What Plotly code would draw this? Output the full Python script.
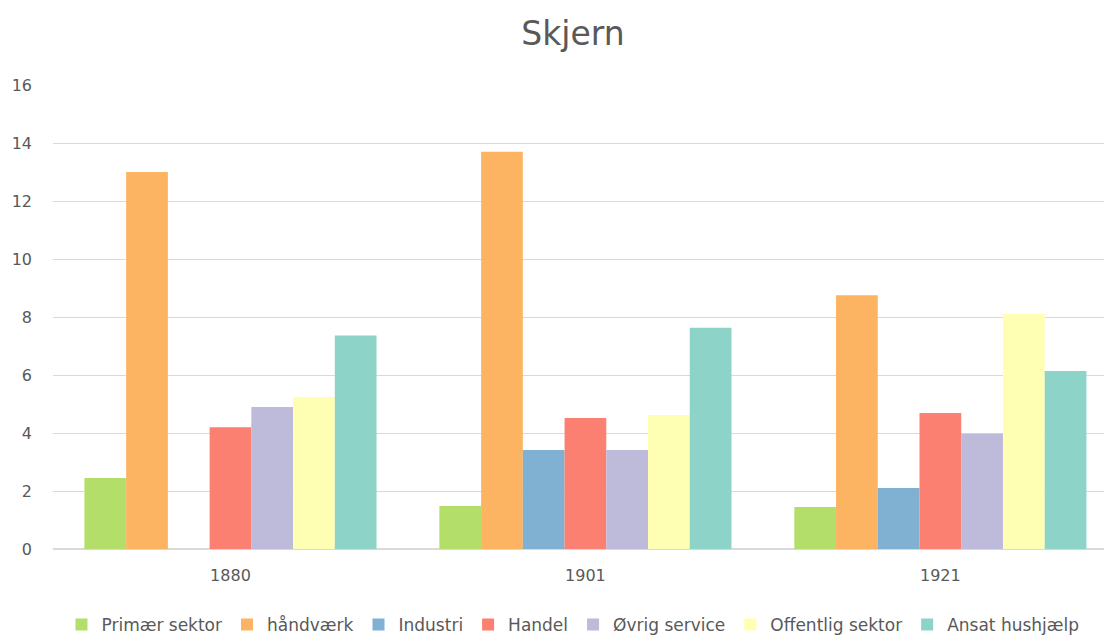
import plotly.graph_objects as go

years = ["1880", "1901", "1921"]
sectors = ["Primær sektor", "håndværk", "Industri", "Handel",
           "Øvrig service", "Offentlig sektor", "Ansat hushjælp"]
colors = ["#b3de69", "#fdb462", "#80b1d3", "#fb8072",
          "#bebada", "#ffffb3", "#8dd3c7"]

primaer = [2.45, 1.48, 1.45]
haandvaerk = [13.0, 13.7, 8.75]
industri = [0, 3.41, 2.1]
handel = [4.2, 4.52, 4.69]
oevrig = [4.9, 3.41, 3.97]
offentlig = [5.24, 4.62, 8.1]
hushjaelp = [7.36, 7.63, 6.14]

series = [primaer, haandvaerk, industri, handel, oevrig, offentlig, hushjaelp]

font_family = "DejaVu Sans, sans-serif"
text_gray = "#595959"

fig = go.Figure()
for name, vals, col in zip(sectors, series, colors):
    fig.add_trace(go.Bar(
        x=years, y=vals, name=name,
        marker=dict(color=col, line=dict(width=0)),
    ))

fig.update_layout(
    width=1104, height=637,
    barmode="group", bargap=0.177, bargroupgap=0,
    plot_bgcolor="white", paper_bgcolor="white",
    margin=dict(l=53, r=0, t=85, b=88),
    title=dict(text="Skjern", x=0.519, xref="container", xanchor="center",
               y=0.948, yref="container", yanchor="middle",
               font=dict(family=font_family, size=33, color=text_gray)),
    font=dict(family=font_family, size=16, color=text_gray),
    legend=dict(orientation="h", x=0.519, xref="container", xanchor="center",
                y=0.019, yref="container", yanchor="middle",
                font=dict(size=17, color=text_gray),
                itemwidth=30, tracegroupgap=0),
    showlegend=True,
)
fig.update_xaxes(type="category", range=[-0.5, 2.461], showgrid=False,
                 showline=False, ticks="", ticklabelstandoff=15,
                 tickfont=dict(size=16, color=text_gray))
fig.update_yaxes(range=[0, 16], dtick=2, showgrid=True, gridcolor="#d9d9d9",
                 gridwidth=1, zeroline=True, zerolinecolor="#d9d9d9", zerolinewidth=2,
                 showline=False, ticks="", ticklabelstandoff=20,
                 tickfont=dict(size=16, color=text_gray))

fig.write_html("out.html")
